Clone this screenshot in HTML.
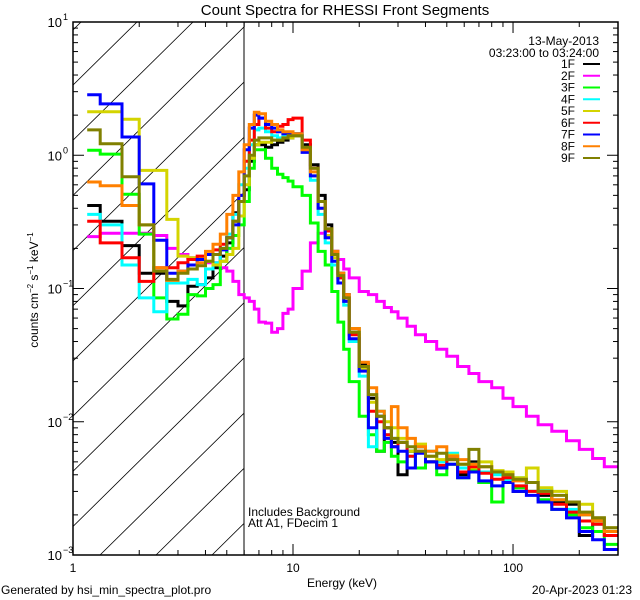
<!DOCTYPE html>
<html><head><meta charset="utf-8"><style>
body{margin:0;background:#fff}
svg{display:block;font-family:"Liberation Sans",sans-serif}
</style></head><body>
<svg id="chart" width="640" height="600" viewBox="0 0 640 600">
<defs><clipPath id="plotclip"><rect x="73" y="22" width="545" height="533"/></clipPath>
<clipPath id="hatchclip"><rect x="73" y="22" width="171" height="533"/></clipPath></defs>
<rect width="640" height="600" fill="#fff"/>
<text x="345" y="15" font-size="15" text-anchor="middle">Count Spectra for RHESSI Front Segments</text>
<g id="hatch" clip-path="url(#hatchclip)"></g>
<line x1="244" y1="22" x2="244" y2="555" stroke="#000" stroke-width="1"/>
<g id="series" clip-path="url(#plotclip)"></g>
<rect x="73" y="22" width="545" height="533" fill="none" stroke="#000" stroke-width="1.5"/>
<g id="ticks"></g>
<text x="599" y="45" font-size="12" text-anchor="end">13-May-2013</text>
<text x="599" y="57" font-size="12" text-anchor="end">03:23:00 to 03:24:00</text>
<g id="legend"></g>
<text x="248" y="516" font-size="12">Includes Background</text>
<text x="248" y="527" font-size="12">Att A1, FDecim 1</text>
<text x="307" y="587" font-size="12">Energy (keV)</text>
<text transform="translate(38,290) rotate(-90)" font-size="12" text-anchor="middle">counts cm<tspan font-size="8" dy="-5">−2</tspan><tspan dy="5"> s</tspan><tspan font-size="8" dy="-5">−1</tspan><tspan dy="5"> keV</tspan><tspan font-size="8" dy="-5">−1</tspan></text>
<text x="1" y="594" font-size="12">Generated by hsi_min_spectra_plot.pro</text>
<text x="632" y="594" font-size="12" text-anchor="end">20-Apr-2023 01:23</text>
</svg>
<script>
const energyEdges=[1.16,1.33,1.67,2,2.33,2.67,3,3.33,3.67,4,4.33,4.67,5,5.33,5.67,6,6.33,6.67,7,7.5,8,8.5,9,9.5,10,11,12,13,14,15,16,17,18,20,22,24,26,28,30,33,36,40,45,50,56,63,70,80,90,100,115,130,150,175,200,230,260,300];
const seriesNames=["1F","2F","3F","4F","5F","6F","7F","8F","9F"];
const seriesColors=["#000000","#ff00ff","#00ff00","#00ffff","#d4d400","#ff0000","#0000ff","#ff8000","#808000"];
const s1F=[.42,.32,.21,.13,.13,.08,.074,.104,.107,.12,.143,.175,.22,.37,.45,.55,.9,1.2,1.2,1.15,1.2,1.25,1.3,1.35,1.4,1.2,.85,.5,.3,.19,.13,.09,.05,.027,.015,.006,.009,.007,.004,.006,.0065,.005,.0045,.0055,.004,.005,.0035,.0042,.0038,.003,.0035,.0028,.0025,.0024,.0014,.0019,.0015];
const s2F=[.245,.26,.26,.26,.25,.2,.18,.17,.165,.156,.156,.143,.135,.113,.09,.085,.08,.07,.056,.055,.047,.05,.065,.07,.1,.135,.22,.26,.24,.19,.165,.14,.12,.095,.09,.08,.072,.067,.06,.052,.045,.04,.035,.031,.026,.023,.02,.018,.015,.013,.011,.0095,.0085,.0072,.0062,.0053,.0046];
const s3F=[1.09,1.02,.51,.256,.085,.059,.064,.09,.088,.1,.107,.16,.2,.25,.3,.45,.8,1.1,1.1,.95,.8,.72,.68,.64,.58,.5,.31,.19,.15,.095,.056,.035,.02,.011,.008,.006,.007,.0055,.005,.006,.0045,.005,.004,.0048,.0038,.0043,.0035,.0025,.0036,.0032,.003,.0026,.0022,.002,.0016,.0015,.0012];
const s4F=[.36,.30,.15,.085,.067,.11,.11,.117,.107,.14,.156,.20,.256,.36,.6,.8,1.2,1.55,1.6,1.5,1.4,1.35,1.4,1.4,1.45,1.1,.65,.36,.22,.15,.11,.075,.04,.022,.0065,.012,.008,.0075,.007,.0055,.0065,.006,.005,.0058,.0045,.0048,.0042,.004,.0036,.0038,.003,.0031,.0026,.0022,.002,.0017,.0015];
const s5F=[2.12,2.12,1.86,.77,.77,.33,.175,.17,.17,.16,.15,.16,.18,.2,.35,.6,.95,1.2,1.25,1.25,1.3,1.3,1.35,1.35,1.4,1.1,.7,.4,.25,.17,.12,.085,.05,.025,.014,.011,.01,.009,.0075,.006,.0068,.0055,.0052,.0056,.0048,.0045,.005,.0043,.0042,.0038,.0045,.0032,.003,.0025,.0024,.0019,.0016];
const s6F=[.32,.22,.17,.113,.143,.143,.156,.165,.175,.18,.195,.215,.24,.32,.5,.9,1.3,1.7,1.9,1.6,1.5,1.65,1.7,1.85,1.9,1.3,.8,.45,.27,.18,.12,.085,.045,.026,.012,.01,.008,.0065,.007,.0055,.006,.005,.0047,.0052,.0042,.0046,.0041,.0037,.0038,.0033,.003,.0029,.0024,.0021,.0018,.0017,.0014];
const s7F=[2.84,2.43,1.37,.61,.23,.13,.135,.15,.165,.18,.18,.195,.24,.3,.5,1.1,1.6,2.0,1.9,1.7,1.6,1.5,1.45,1.45,1.45,1.05,.7,.4,.24,.16,.11,.08,.042,.024,.009,.011,.0075,.0065,.006,.0045,.0058,.005,.0045,.0048,.0038,.0042,.0036,.0033,.0035,.003,.0028,.0025,.0022,.0019,.0015,.0013,.0011];
const s8F=[.63,.59,.42,.30,.143,.115,.135,.14,.156,.19,.215,.256,.36,.5,.75,1.2,1.7,2.1,2.05,1.8,1.7,1.55,1.5,1.5,1.45,1.1,.75,.45,.28,.19,.13,.09,.05,.028,.018,.012,.009,.013,.009,.0075,.0065,.006,.0065,.0055,.0052,.0048,.0046,.0042,.004,.0036,.0035,.003,.0026,.0025,.002,.0018,.0015];
const s9F=[1.55,1.22,.69,.30,.135,.117,.13,.14,.148,.16,.18,.2,.24,.32,.45,.7,1.0,1.3,1.35,1.35,1.3,1.3,1.35,1.4,1.4,1.15,.8,.45,.28,.18,.125,.085,.047,.026,.016,.011,.009,.0075,.007,.0065,.006,.0055,.0058,.0052,.0048,.0062,.0046,.0042,.004,.0037,.0035,.003,.0028,.0025,.0021,.0019,.0016];
const seriesData=[s1F,s2F,s3F,s4F,s5F,s6F,s7F,s8F,s9F];
const xTickMajor=[1,10,100];
const xTickLabels=["1","10","100"];
const yTickMajor=[10,1,0.1,0.01,0.001];
const yTickExponents=["1","0","−1","−2","−3"];

const NS="http://www.w3.org/2000/svg";
const X0=73,X1=618,Y0=555,Y1=22;
const XMIN=1,XMAX=300,YMIN=0.001,YMAX=10;
function xs(e){return X0+(Math.log10(e)-Math.log10(XMIN))/(Math.log10(XMAX)-Math.log10(XMIN))*(X1-X0);}
function ys(v){return Y0-(Math.log10(v)-Math.log10(YMIN))/(Math.log10(YMAX)-Math.log10(YMIN))*(Y0-Y1);}
function mk(tag,attrs,parent){const el=document.createElementNS(NS,tag);for(const k in attrs)el.setAttribute(k,attrs[k]);parent.appendChild(el);return el;}

// hatch
const hatch=document.getElementById('hatch');
for(let b=212;b>-600;b-=56){
  const ln=mk('line',{x1:b,y1:555,x2:b+541,y2:22,stroke:'#000','stroke-width':0.8},hatch);
  
  
}

// series
const sg=document.getElementById('series');
seriesData.forEach((vals,si)=>{
  let d='';
  for(let i=0;i<vals.length&&i+1<energyEdges.length;i++){
    const y=ys(Math.max(vals[i],1e-4));
    const xa=xs(energyEdges[i]),xb=xs(energyEdges[i+1]);
    d+=(i===0?'M':'L')+xa.toFixed(1)+','+y.toFixed(1)+'L'+xb.toFixed(1)+','+y.toFixed(1);
  }
  const p=mk('path',{d:d,fill:'none',stroke:seriesColors[si],'stroke-width':3,'stroke-linejoin':'miter'},sg);
  
  
});

// ticks
const tg=document.getElementById('ticks');
for(let dec=1;dec<=100;dec*=10){
  for(let m=1;m<=9;m++){
    const e=dec*m; if(e>XMAX) break;
    const x=xs(e),L=(m===1)?11:5;
    const t1=mk('line',{x1:x,y1:Y0,x2:x,y2:Y0-L,stroke:'#000','stroke-width':1},tg);
    
    
    const t2=mk('line',{x1:x,y1:Y1,x2:x,y2:Y1+L,stroke:'#000','stroke-width':1},tg);
    
    
  }
}
xTickMajor.forEach((e,i)=>{
  const t=mk('text',{x:xs(e),y:572,'font-size':12,'text-anchor':'middle'},tg);
  t.textContent=xTickLabels[i];
  
  
});
for(let dec=0.001;dec<10;dec*=10){
  for(let m=1;m<=9;m++){
    const v=dec*m,y=ys(v),L=(m===1)?11:5;
    const t1=mk('line',{x1:X0,y1:y,x2:X0+L,y2:y,stroke:'#000','stroke-width':1},tg);
    
    
    const t2=mk('line',{x1:X1,y1:y,x2:X1-L,y2:y,stroke:'#000','stroke-width':1},tg);
    
    
  }
}
yTickMajor.forEach((v,i)=>{
  const y=ys(v);
  const t=mk('text',{x:62,y:y+5,'font-size':13,'text-anchor':'end'},tg);
  t.textContent='10';
  
  
  const s=mk('text',{x:63,y:y-2,'font-size':9,'text-anchor':'start'},tg);
  s.textContent=yTickExponents[i];
  
  
});

// legend
const lg=document.getElementById('legend');
seriesNames.forEach((n,i)=>{
  const y=64+i*11.75;
  const t=mk('text',{x:575,y:y+4,'font-size':12,'text-anchor':'end'},lg);
  t.textContent=n;
  
  
  const l=mk('line',{x1:583,y1:y,x2:600,y2:y,stroke:seriesColors[i],'stroke-width':2},lg);
  
  
});
</script>
</body></html>
